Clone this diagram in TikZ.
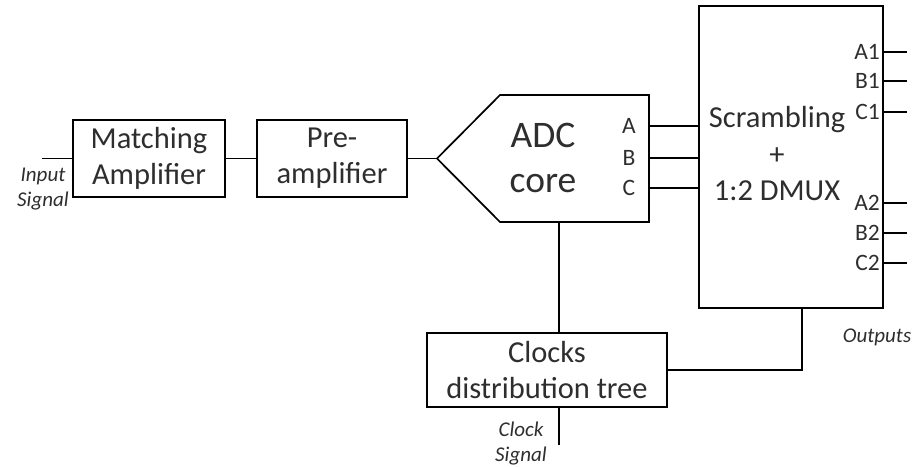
\documentclass[tikz,border=0pt]{standalone}
\usepackage{fontspec}
\setmainfont{Carlito}
\usetikzlibrary{calc}
\definecolor{txt}{gray}{0.18}
\tikzset{
  wire/.style={line width=1.7pt, black},
  block/.style={draw=black, line width=1.7pt, rectangle, inner sep=0pt,
                align=center, text=txt, font=\fontsize{30.5}{36}\selectfont},
  portlbl/.style={inner sep=0pt, text=txt, font=\fontsize{23.5}{26}\selectfont},
  siglbl/.style={inner sep=0pt, align=center, text=txt, font=\itshape\fontsize{21}{25}\selectfont},
}
\begin{document}
\begin{tikzpicture}[x=1pt,y=-1pt]
  \useasboundingbox (0,0) rectangle (918,466);

  % front-end chain
  \coordinate (in) at (42,158.5);
  \node[block, minimum width=152pt, minimum height=77pt] (match) at (149,158.5) {Matching\\Amplifier};
  \node[block, minimum width=150pt, minimum height=77pt] (pre) at (332,158.5) {Pre-\\amplifier};

  % ADC core outline
  \coordinate (adctip) at (437,158.5);
  \coordinate (adctl) at (500,95);
  \coordinate (adctr) at (649,95);
  \coordinate (adcbr) at (649,222);
  \coordinate (adcbl) at (500,222);
  \draw[wire, line join=miter] (adctip) -- (adctl) -- (adctr) -- (adcbr) -- (adcbl) -- cycle;
  \node[inner sep=0pt, align=center, text=txt, font=\fontsize{37.5}{45}\selectfont] (adc) at (543,158) {ADC\\core};
  \node[portlbl] (pa) at (629,126) {A};
  \node[portlbl] (pb) at (629,158) {B};
  \node[portlbl] (pc) at (629,188) {C};
  \coordinate (adcA) at (649,126);
  \coordinate (adcB) at (649,158);
  \coordinate (adcC) at (649,188);
  \coordinate (adcbot) at (559,222);

  % scrambler / demultiplexer
  \node[block, minimum width=184pt, minimum height=302pt] (dmux) at (791,157) {};
  \node[inner sep=0pt, align=center, text=txt, font=\fontsize{30.5}{36.5}\selectfont] (dmuxtxt) at (777,154) {Scrambling\\+\\1:2 DMUX};
  \foreach \n/\y in {A1/52, B1/81, C1/112, A2/203, B2/233, C2/263} {
    \node[portlbl, anchor=east] (l\n) at (880,\y) {\n};
    \coordinate (o\n) at (907,\y);
    \draw[wire] (dmux.east |- o\n) -- (o\n);
  }
  \node[siglbl] (outs) at (877,337) {Outputs};

  % clock distribution
  \node[block, minimum width=240pt, minimum height=74pt] (clk) at (547,370) {Clocks\\distribution tree};
  \coordinate (clkin) at (559,445);
  \coordinate (dmuxclk) at ($(dmux.south)+(11,0)$);

  % labels of the external signals
  \node[siglbl] (insig) at (43,189) {Input\\Signal};
  \node[siglbl] (clksig) at (521,444) {Clock\\Signal};

  % connections
  \draw[wire] (in) -- (match.west);
  \draw[wire] (match.east) -- (pre.west);
  \draw[wire] (pre.east) -- (adctip);
  \foreach \p in {A,B,C} \draw[wire] (adc\p) -- (dmux.west |- adc\p);
  \draw[wire] (adcbot) -- (adcbot |- clk.north);
  \draw[wire] (clk.east) -| (dmuxclk);
  \draw[wire] (clk.south -| clkin) -- (clkin);
\end{tikzpicture}
\end{document}
